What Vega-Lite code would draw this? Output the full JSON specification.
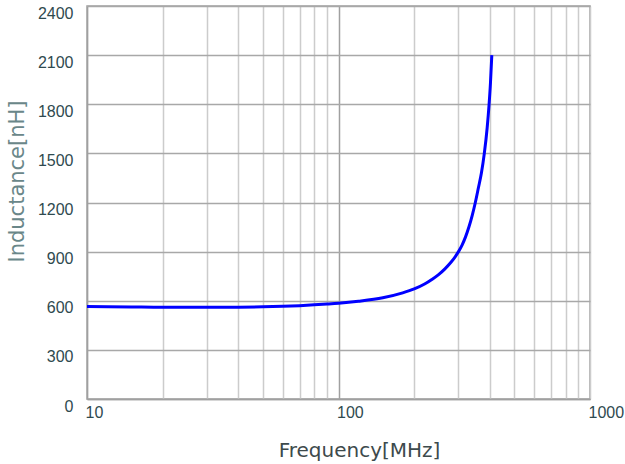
{
  "$schema": "https://vega.github.io/schema/vega-lite/v6.json",
  "width": 503,
  "height": 393,
  "autosize": "none",
  "padding": {"left": 87, "top": 6, "right": 35, "bottom": 65},
  "background": "white",
  "config": {
    "view": {"stroke": "#a0a0a0", "strokeWidth": 1.5},
    "axis": {"labelFont": "Liberation Sans", "titleFont": "DejaVu Sans", "titleFontWeight": "normal"}
  },
  "data": {
    "values": [
      {"f": 10, "L": 565}, {"f": 15, "L": 562}, {"f": 20, "L": 560}, {"f": 30, "L": 560},
      {"f": 40, "L": 561}, {"f": 50, "L": 563}, {"f": 60, "L": 566}, {"f": 70, "L": 570},
      {"f": 80, "L": 575}, {"f": 90, "L": 580}, {"f": 100, "L": 585}, {"f": 120, "L": 597},
      {"f": 150, "L": 618}, {"f": 180, "L": 648}, {"f": 200, "L": 672}, {"f": 220, "L": 702},
      {"f": 235, "L": 730}, {"f": 250, "L": 760}, {"f": 265, "L": 795}, {"f": 280, "L": 835},
      {"f": 290, "L": 865}, {"f": 300, "L": 900}, {"f": 310, "L": 940}, {"f": 320, "L": 990},
      {"f": 330, "L": 1050}, {"f": 340, "L": 1120}, {"f": 350, "L": 1200}, {"f": 360, "L": 1290},
      {"f": 370, "L": 1380}, {"f": 380, "L": 1500}, {"f": 390, "L": 1655}, {"f": 397, "L": 1800},
      {"f": 402, "L": 1930}, {"f": 407, "L": 2100}
    ]
  },
  "mark": {"type": "line", "color": "#0000ff", "strokeWidth": 3, "interpolate": "monotone", "clip": true},
  "encoding": {
    "x": {
      "field": "f", "type": "quantitative",
      "scale": {"type": "log", "domain": [10, 1000], "nice": false},
      "axis": {
        "title": "Frequency[MHz]",
        "values": [10, 20, 30, 40, 50, 60, 70, 80, 90, 100, 200, 300, 400, 500, 600, 700, 800, 900, 1000],
        "labelExpr": "datum.value == 10 || datum.value == 100 || datum.value == 1000 ? datum.label : ''",
        "format": "d",
        "ticks": false,
        "domainColor": "#a0a0a0", "domainWidth": 1.5,
        "grid": true,
        "gridColor": {"condition": {"test": "datum.value == 100", "value": "#a0a0a0"}, "value": "#cccccc"},
        "gridWidth": 1.5,
        "labelAlign": "left", "labelBaseline": "top", "labelPadding": 5, "labelOffset": -2,
        "labelFontSize": 16, "labelColor": "#2f4a4f", "labelOverlap": false, "labelBound": false,
        "titleFontSize": 20, "titleColor": "#3d4a4c",
        "titleX": 272, "titleY": 51, "titleAlign": "center", "titleBaseline": "middle"
      }
    },
    "y": {
      "field": "L", "type": "quantitative",
      "scale": {"domain": [0, 2400], "nice": false},
      "axis": {
        "title": "Inductance[nH]",
        "values": [0, 300, 600, 900, 1200, 1500, 1800, 2100, 2400],
        "format": "d",
        "ticks": false,
        "domainColor": "#a0a0a0", "domainWidth": 1.5,
        "grid": true, "gridColor": "#a8a8a8", "gridWidth": 1.5,
        "labelAlign": "right", "labelBaseline": "middle", "labelPadding": 14, "labelOffset": 7,
        "labelFontSize": 16, "labelColor": "#2f4a4f",
        "titleFontSize": 21, "titleColor": "#6a8789",
        "titleX": -70, "titleY": 175, "titleAngle": -90, "titleAlign": "center", "titleBaseline": "middle"
      }
    }
  }
}
